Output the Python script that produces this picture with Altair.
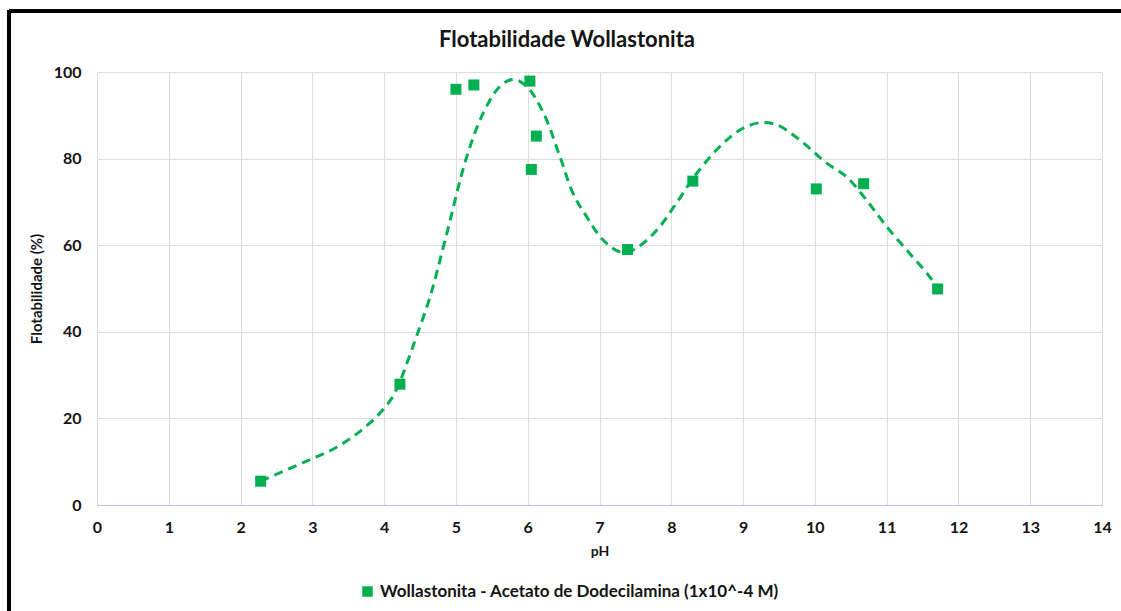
import altair as alt
import pandas as pd

# Measured flotability of wollastonite vs pH
ph_values = [2.28, 4.22, 5.00, 5.25, 6.03, 6.12, 6.05, 7.39, 8.30, 10.02, 10.68, 11.71]
flot_values = [5.5, 27.9, 96.0, 97.0, 97.9, 85.2, 77.5, 59.0, 74.8, 73.0, 74.2, 49.9]

# Smoothed trend curve through the data
curve_ph = [2.28, 2.97, 3.30, 3.60, 3.90, 4.10, 4.22, 4.33, 4.45, 4.64, 4.85, 5.15,
            5.38, 5.61, 5.80, 5.99, 6.22, 6.45, 6.63, 6.82, 7.05, 7.28, 7.47, 7.80,
            8.07, 8.35, 8.72, 9.00, 9.24, 9.47, 9.79, 10.16, 10.44, 10.72, 11.00,
            11.32, 11.60, 11.71]
curve_flot = [5.5, 10.5, 13.0, 16.2, 20.5, 24.5, 28.5, 33.3, 38.9, 48.1, 61.2, 80.4,
              90.5, 96.6, 98.3, 96.6, 90.5, 80.4, 72.0, 66.6, 61.2, 58.5, 58.9, 63.5,
              69.7, 76.5, 83.5, 87.0, 88.3, 87.8, 84.3, 79.0, 75.8, 70.4, 64.3,
              58.1, 52.7, 49.9]

chart_title = "Flotabilidade Wollastonita"
series_name = "Wollastonita - Acetato de Dodecilamina (1x10^-4 M)"
x_ticks = list(range(0, 15))
y_ticks = [0, 20, 40, 60, 80, 100]

GREEN = "#00b050"
FONT = "Lato"
TEXT = "#141414"

points = pd.DataFrame({"ph": ph_values, "flot": flot_values, "serie": series_name})
curve = pd.DataFrame({"ph": curve_ph, "flot": curve_flot})
title_df = pd.DataFrame({"label": [chart_title]})

x_scale = alt.Scale(domain=[0, 14], nice=False, zero=False)
y_scale = alt.Scale(domain=[0, 100], nice=False)

x_axis = alt.Axis(values=x_ticks, format="d", title="pH", grid=True, ticks=False,
                  domainColor="#b4c6e7", domainWidth=1.2,
                  labelFont=FONT, labelFontSize=16, labelFontWeight="bold",
                  labelColor=TEXT, labelPadding=14, labelFlush=False,
                  titleFont=FONT, titleFontSize=14, titleFontWeight="bold",
                  titleColor=TEXT, titlePadding=9)
y_axis = alt.Axis(values=y_ticks, format="d", title="Flotabilidade (%)", grid=True,
                  ticks=False, domain=False, labelFont=FONT, labelFontSize=16,
                  labelFontWeight="bold", labelColor=TEXT, labelPadding=16,
                  titleFont=FONT, titleFontSize=15, titleFontWeight="bold",
                  titleColor=TEXT, titlePadding=9)

trend = alt.Chart(curve).mark_line(
    color=GREEN, strokeWidth=3, strokeDash=[9, 6], interpolate="catmull-rom"
).encode(
    x=alt.X("ph:Q", scale=x_scale, axis=x_axis),
    y=alt.Y("flot:Q", scale=y_scale, axis=y_axis),
    order="ph:Q",
)

dots = alt.Chart(points).mark_point(
    shape="square", filled=True, size=121, opacity=1
).encode(
    x=alt.X("ph:Q", scale=x_scale),
    y=alt.Y("flot:Q", scale=y_scale),
    color=alt.Color(
        "serie:N",
        scale=alt.Scale(domain=[series_name], range=[GREEN]),
        legend=alt.Legend(title=None, orient="none", legendX=262, legendY=511,
                          symbolType="square", symbolSize=110,
                          symbolStrokeWidth=0, labelFont=FONT, labelFontSize=17,
                          labelFontWeight="bold", labelColor=TEXT, labelLimit=700),
    ),
)

# Chart heading, placed above the plot area
heading = alt.Chart(title_df).mark_text(
    font=FONT, fontSize=22, fontWeight="bold", color=TEXT,
    align="center", baseline="middle"
).encode(
    text="label:N", x=alt.value(470), y=alt.value(-32)
)

# Outer frame lines (top and left edges of the chart border)
frame_top = alt.Chart(curve).mark_rule(color="black", strokeWidth=2.5).encode(
    x=alt.value(-88), x2=alt.value(1030), y=alt.value(-61)
)
frame_left = alt.Chart(curve).mark_rule(color="black", strokeWidth=2.5).encode(
    x=alt.value(-88), y=alt.value(-62), y2=alt.value(545)
)

chart = alt.layer(trend, dots, heading, frame_top, frame_left).properties(
    width=1005,
    height=433,
    autosize=alt.AutoSizeParams(type="none"),
    padding={"left": 97, "top": 72, "right": 19, "bottom": 106},
).configure_view(
    stroke=None
).configure_axis(
    gridColor="#dae3f0", gridWidth=1
).configure(background="white")

chart.save("out.html", embed_options={"renderer": "svg", "actions": False})
